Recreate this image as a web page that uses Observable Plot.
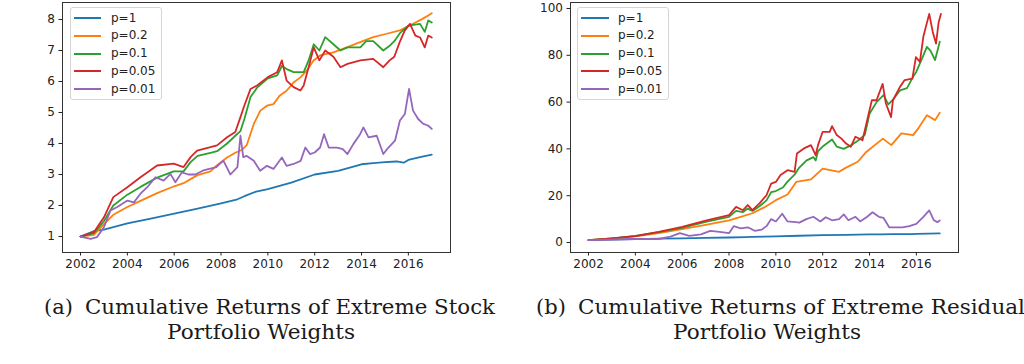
<!DOCTYPE html>
<html><head><meta charset="utf-8">
<script src="https://cdn.jsdelivr.net/npm/d3@7"></script>
<script src="https://cdn.jsdelivr.net/npm/@observablehq/plot@0.6"></script>
<style>
body{margin:0;background:#fff;}
#wrap{position:relative;width:1024px;height:364px;overflow:hidden;}
.panel{position:absolute;top:0;}
.legend{position:absolute;border:1px solid #d6d6d6;border-radius:3px;background:rgba(255,255,255,0.8);box-sizing:border-box;font-family:"DejaVu Sans";font-size:12px;color:#222;}
.sw{position:absolute;height:2px;}
.lt{position:absolute;white-space:nowrap;line-height:14px;}
</style></head>
<body><div id="wrap"></div>
<script>
// ---- Data: (a) Extreme Stock Portfolio Weights ----
const seriesNames = ["p=1","p=0.2","p=0.1","p=0.05","p=0.01"];
const seriesColors = ["#1f77b4","#ff7f0e","#2ca02c","#d62728","#9467bd"];
const xTicks = [2002,2004,2006,2008,2010,2012,2014,2016];
const yTicksA = [1,2,3,4,5,6,7,8];
const yTicksB = [0,20,40,60,80,100];

const aP1Years = [2002,2002.55,2003,2004,2005,2006,2007,2008,2008.7,2009,2009.5,2010,2011,2012,2013,2014,2014.5,2015,2015.5,2015.8,2016,2016.5,2017];
const aP1 = [1.0,1.17,1.22,1.42,1.58,1.74,1.9,2.07,2.2,2.3,2.45,2.53,2.74,3.0,3.12,3.33,3.37,3.4,3.42,3.38,3.47,3.56,3.64];

const aP02Years = [2002,2002.57,2003,2003.4,2004,2004.56,2005.27,2006,2006.4,2006.7,2007,2007.55,2007.83,2008.26,2008.61,2008.9,2009.1,2009.4,2009.68,2009.96,2010.24,2010.5,2010.8,2011.1,2011.4,2011.66,2011.95,2012.23,2012.8,2013.37,2013.94,2014.5,2015.07,2015.64,2016.2,2016.6,2016.85,2017];
const aP02 = [1.0,1.05,1.4,1.7,1.95,2.15,2.4,2.62,2.72,2.85,2.98,3.1,3.3,3.55,3.7,3.8,3.95,4.63,5.06,5.22,5.27,5.54,5.7,5.97,6.14,6.35,6.68,6.84,6.94,7.1,7.27,7.43,7.54,7.65,7.86,8.02,8.13,8.2];

const aP01Years = [2002,2002.57,2003,2003.4,2004,2004.56,2005.27,2005.98,2006.4,2006.7,2007,2007.55,2007.83,2008.26,2008.61,2008.83,2009,2009.26,2009.54,2010,2010.4,2010.6,2010.8,2011.1,2011.39,2011.53,2011.74,2011.96,2012.2,2012.45,2012.8,2013.1,2013.4,2013.95,2014.2,2014.5,2014.93,2015.2,2015.4,2015.63,2016,2016.5,2016.7,2016.85,2017];
const aP01 = [1.0,1.1,1.5,2.0,2.35,2.6,2.9,3.1,3.1,3.4,3.6,3.7,3.75,4.0,4.25,4.4,4.8,5.5,5.8,6.1,6.2,6.5,6.4,6.3,6.3,6.3,6.68,7.2,7.0,7.43,7.2,7.0,7.1,7.1,7.3,7.3,7.0,7.15,7.3,7.55,7.8,7.86,7.6,7.97,7.9];

const aP005Years = [2002,2002.57,2003,2003.4,2004,2004.56,2005.27,2005.98,2006.4,2006.7,2006.98,2007.55,2007.83,2008.26,2008.61,2008.83,2008.97,2009.26,2009.54,2010,2010.4,2010.6,2010.8,2011.1,2011.39,2011.53,2011.74,2011.96,2012.2,2012.45,2012.8,2013.1,2013.4,2013.95,2014.5,2014.93,2015.2,2015.4,2015.63,2015.85,2016.07,2016.3,2016.5,2016.7,2016.85,2017];
const aP005 = [1.0,1.14,1.62,2.27,2.59,2.91,3.29,3.35,3.24,3.56,3.77,3.88,3.94,4.2,4.37,4.85,5.17,5.76,5.87,6.14,6.3,6.68,6.03,5.82,5.71,5.87,6.46,7.1,6.68,7.0,6.8,6.46,6.57,6.68,6.73,6.46,6.68,6.8,7.27,7.65,7.86,7.48,7.42,7.1,7.48,7.42];

const aP001Years = [2002,2002.43,2002.7,2003,2003.28,2003.57,2004,2004.28,2004.56,2004.85,2005.2,2005.55,2005.84,2006.05,2006.33,2006.6,2006.9,2007.24,2007.5,2007.8,2008.1,2008.4,2008.7,2008.83,2008.95,2009.1,2009.4,2009.67,2009.96,2010.24,2010.6,2010.8,2011.1,2011.4,2011.6,2011.8,2012,2012.23,2012.4,2012.6,2012.95,2013.2,2013.4,2013.65,2013.94,2014.08,2014.3,2014.65,2014.93,2015.15,2015.43,2015.64,2015.85,2016.03,2016.2,2016.42,2016.64,2016.84,2017];
const aP001 = [1.0,0.92,0.98,1.3,1.84,1.95,2.16,2.1,2.38,2.59,2.91,2.8,3.02,2.75,3.07,3.0,3.0,3.13,3.18,3.24,3.45,3.0,3.24,4.25,3.56,3.6,3.44,3.12,3.28,3.18,3.55,3.28,3.34,3.44,3.87,3.66,3.71,3.87,4.3,3.87,3.87,3.82,3.66,3.98,4.3,4.52,4.2,4.25,3.66,3.87,4.09,4.74,4.95,5.76,5.06,4.79,4.63,4.58,4.47];

// ---- Data: (b) Extreme Residual Portfolio Weights ----
const bP1Years = aP1Years;
const bP1 = [1.0,1.17,1.25,1.45,1.62,1.8,1.97,2.15,2.3,2.4,2.55,2.65,2.88,3.12,3.26,3.45,3.5,3.55,3.6,3.6,3.68,3.78,3.87];

const bP02Years = [2002,2003,2004,2005,2006,2007,2008,2008.5,2009,2009.5,2010,2010.5,2010.87,2011.5,2012,2012.7,2013,2013.5,2013.86,2014.57,2014.93,2015.36,2015.86,2016.1,2016.45,2016.8,2017];
const bP02 = [1.0,1.7,2.6,4.0,5.7,7.5,9.5,11,12.5,15,18.1,20.5,25.9,27,31.6,30.2,32,34.5,38.7,44.4,41.6,46.6,45.9,49,54.4,52.3,55.4];

const bP01Years = [2002,2003,2004,2005,2006,2007,2008,2008.3,2008.6,2008.8,2009,2009.3,2009.6,2009.8,2010,2010.3,2010.5,2010.8,2011,2011.3,2011.6,2011.7,2011.8,2012,2012.4,2012.6,2012.9,2013.2,2013.5,2013.8,2014,2014.3,2014.6,2014.8,2015,2015.3,2015.6,2015.86,2016,2016.3,2016.45,2016.6,2016.8,2017];
const bP01 = [1.0,1.8,2.8,4.4,6.3,8.8,11,13.5,13,14.5,13.5,15.5,18,21.5,22,23.5,26,29,32,35,36.5,35,39,41,44,41,40,41.5,43.5,46,55,60,63,59,61,65,66,70.8,73,80,83.6,82,78,85.8];

const bP005Years = [2002,2003,2004,2005,2006,2007,2008,2008.3,2008.6,2008.8,2009,2009.3,2009.6,2009.8,2010,2010.2,2010.5,2010.8,2010.9,2011.2,2011.5,2011.7,2011.8,2012,2012.3,2012.4,2012.6,2012.8,2013,2013.2,2013.4,2013.7,2013.9,2014.1,2014.3,2014.56,2014.7,2014.92,2015,2015.3,2015.5,2015.83,2015.98,2016.15,2016.3,2016.55,2016.7,2016.84,2016.95,2017.05];
const bP005 = [1.0,1.8,2.7,4.5,6.7,9.3,11.7,15.2,13.8,16,13.8,16.7,20.2,25.2,25.9,28.8,30.9,30.2,38,40.2,41.6,37.3,41.6,47.3,47.3,49.7,45.9,44.4,42.3,40.9,45.2,43.7,52.3,60.8,60.8,67.8,59.4,53.6,60.8,66.5,69.4,70,79.2,77.2,88,97.7,90,85,94,97.7];

const bP001Years = [2002,2004,2005,2005.5,2005.9,2006.3,2006.8,2007.2,2007.6,2008,2008.2,2008.5,2008.8,2009.1,2009.4,2009.6,2009.8,2010,2010.27,2010.5,2010.85,2011,2011.3,2011.6,2011.9,2012.13,2012.4,2012.7,2012.9,2013.1,2013.4,2013.6,2013.9,2014.13,2014.4,2014.6,2014.84,2015.1,2015.4,2015.7,2016,2016.3,2016.55,2016.75,2016.9,2017];
const bP001 = [1,1.5,1.5,2.5,4.0,2.8,3.5,5,4.5,4.0,7,6,6.5,5,5.5,7,10,9,12.3,9,8.7,8.5,10,11,9,10.8,9.5,10,12,9.5,11,9,11,12.9,11,10.5,6.5,6.5,6.5,7,8,11,13.7,9.5,8.7,9.4];

// ---- build ----
function rows(years, vals, s){ return years.map((x,i)=>({x, y: vals[i], s})); }
const panelA = [rows(aP1Years,aP1,0),rows(aP02Years,aP02,1),rows(aP01Years,aP01,2),rows(aP005Years,aP005,3),rows(aP001Years,aP001,4)];
const panelB = [rows(bP1Years,bP1,0),rows(bP02Years,bP02,1),rows(bP01Years,bP01,2),rows(bP005Years,bP005,3),rows(bP001Years,bP001,4)];

function makePanel(series, yDomain, yTicks, ml, mr){
  return Plot.plot({
    width: 512, height: 280,
    marginTop: 2, marginBottom: 28, marginLeft: ml, marginRight: mr,
    style: {fontFamily: "DejaVu Sans", fontSize: "12px", color: "#222", background: "transparent", overflow: "visible"},
    x: {domain: [2001.23, 2017.8]},
    y: {domain: yDomain},
    marks: [
      ...series.map((d,i)=>Plot.line(d, {x:"x", y:"y", stroke: seriesColors[i], strokeWidth: 1.8, curve: "linear"})),
      Plot.frame({stroke: "#333", strokeWidth: 1}),
      Plot.axisX({ticks: xTicks, tickFormat: d => String(d), tickSize: 3.5, tickPadding: 3.5, label: null, fontSize: 12}),
      Plot.axisY({ticks: yTicks, tickFormat: d => String(d), tickSize: 3.5, tickPadding: 4, label: null, fontSize: 12})
    ]
  });
}

const wrap = document.getElementById("wrap");
const pa = makePanel(panelA, [0.484, 8.548], yTicksA, 62, 62);
pa.classList.add("panel"); pa.style.left = "0px";
wrap.appendChild(pa);
const pb = makePanel(panelB, [-4.27, 102.56], yTicksB, 58, 66);
pb.classList.add("panel"); pb.style.left = "512px";
wrap.appendChild(pb);

function legend(left, swW, textOff){
  const lg = document.createElement("div");
  lg.className = "legend";
  lg.style.left = left + "px"; lg.style.top = "7px";
  lg.style.width = "92px"; lg.style.height = "93px";
  seriesNames.forEach((n,i)=>{
    const cy = 10 + i*17.75;
    const sw = document.createElement("div");
    sw.className = "sw"; sw.style.background = seriesColors[i];
    sw.style.left = "3px"; sw.style.width = swW + "px"; sw.style.top = (cy-1) + "px";
    lg.appendChild(sw);
    const t = document.createElement("div");
    t.className = "lt"; t.textContent = n;
    t.style.left = textOff + "px"; t.style.top = (cy-7.5) + "px";
    lg.appendChild(t);
  });
  wrap.appendChild(lg);
}
legend(70, 27, 40);
legend(577, 28, 40);

// captions
const ns = "http://www.w3.org/2000/svg";
const cap = document.createElementNS(ns, "svg");
cap.setAttribute("width", 1024); cap.setAttribute("height", 364);
cap.style.position = "absolute"; cap.style.left = "0"; cap.style.top = "0";
const captions = [
  {t:"(a)", x:44, y:314, w:null},
  {t:"Cumulative Returns of Extreme Stock", x:85, y:314, w:410},
  {t:"Portfolio Weights", x:167, y:339, w:188},
  {t:"(b)", x:536, y:314, w:null},
  {t:"Cumulative Returns of Extreme Residual", x:578, y:314, w:447},
  {t:"Portfolio Weights", x:673, y:339, w:188}
];
captions.forEach(c=>{
  const te = document.createElementNS(ns, "text");
  te.setAttribute("x", c.x); te.setAttribute("y", c.y);
  te.setAttribute("font-family", "DejaVu Serif");
  te.setAttribute("font-size", "21");
  te.setAttribute("fill", "#1a1a1a");
  if (c.w) { te.setAttribute("textLength", c.w); te.setAttribute("lengthAdjust", "spacingAndGlyphs"); }
  te.textContent = c.t;
  cap.appendChild(te);
});
wrap.appendChild(cap);
</script>
</body></html>
